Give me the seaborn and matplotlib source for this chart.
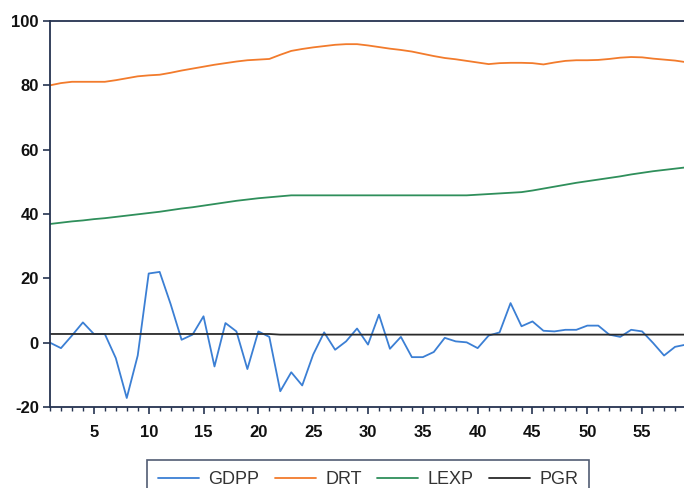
import numpy as np
import pandas as pd
import matplotlib.pyplot as plt
import seaborn as sns
from matplotlib.ticker import MultipleLocator

# observations 1..59
obs = list(range(1, 60))

gdpp = [0.0, -1.7, 2.2, 6.3, 2.7, 2.7, -4.8, -17.2, -4.0, 21.5,
        22.0, 12.0, 0.9, 2.5, 8.2, -7.4, 6.1, 3.5, -8.2, 3.5,
        1.8, -15.1, -9.2, -13.3, -3.7, 3.2, -2.2, 0.4, 4.4, -0.6,
        8.7, -1.9, 1.8, -4.5, -4.5, -2.9, 1.5, 0.4, 0.1, -1.7,
        2.2, 3.2, 12.3, 5.1, 6.6, 3.7, 3.5, 4.0, 4.0, 5.3,
        5.3, 2.5, 1.8, 4.0, 3.5, -0.1, -4.0, -1.3, -0.6]

drt = [80.0, 80.7, 81.1, 81.1, 81.1, 81.1, 81.6, 82.2, 82.8, 83.1,
       83.3, 83.9, 84.6, 85.2, 85.8, 86.4, 86.9, 87.4, 87.8, 88.0,
       88.2, 89.5, 90.7, 91.3, 91.8, 92.2, 92.6, 92.8, 92.8, 92.4,
       91.9, 91.4, 91.0, 90.5, 89.8, 89.1, 88.5, 88.1, 87.6, 87.1,
       86.6, 86.9, 87.0, 87.0, 86.9, 86.5, 87.1, 87.6, 87.8, 87.8,
       87.9, 88.2, 88.6, 88.8, 88.7, 88.3, 88.0, 87.7, 87.2]

lexp = [36.9, 37.3, 37.7, 38.0, 38.4, 38.7, 39.1, 39.5, 39.9, 40.3,
        40.7, 41.2, 41.7, 42.1, 42.6, 43.1, 43.6, 44.1, 44.5, 44.9,
        45.2, 45.5, 45.8, 45.8, 45.8, 45.8, 45.8, 45.8, 45.8, 45.8,
        45.8, 45.8, 45.8, 45.8, 45.8, 45.8, 45.8, 45.8, 45.8, 46.0,
        46.2, 46.4, 46.6, 46.8, 47.3, 47.9, 48.5, 49.1, 49.7, 50.2,
        50.7, 51.2, 51.7, 52.3, 52.8, 53.3, 53.7, 54.1, 54.5]

pgr = [2.7] * 21 + [2.5] * 38

series_names = ["GDPP", "DRT", "LEXP", "PGR"]
colors = ["#3b7fd4", "#f27b2c", "#2f8f5b", "#2a2a2a"]

df = pd.DataFrame({"obs": obs, "GDPP": gdpp, "DRT": drt, "LEXP": lexp, "PGR": pgr})
long_df = df.melt(id_vars="obs", var_name="series", value_name="value")

sns.set_style("white")
plt.rcParams["font.family"] = ["Liberation Sans", "DejaVu Sans"]
plt.rcParams["axes.unicode_minus"] = False

fig = plt.figure(figsize=(6.84, 4.88), dpi=100)
ax = fig.add_axes([50 / 684, 1 - 407 / 488, 636 / 684, 386 / 488])

sns.lineplot(data=long_df, x="obs", y="value", hue="series", hue_order=series_names,
             palette=colors, linewidth=1.3, ax=ax, legend=False)

ax.set_xlim(1, 59)
ax.set_ylim(-20, 100)
ax.set_xlabel("")
ax.set_ylabel("")
ax.xaxis.set_minor_locator(MultipleLocator(1))
ax.yaxis.set_major_locator(MultipleLocator(20))
ax.set_xticks(range(5, 60, 5))

spine_col = "#253350"
for side in ["left", "bottom", "top"]:
    ax.spines[side].set_color(spine_col)
    ax.spines[side].set_linewidth(1.3)
ax.spines["right"].set_visible(False)

ax.tick_params(axis="both", which="major", direction="out", length=5, width=1.2,
               color=spine_col, labelsize=12, pad=4)
ax.tick_params(axis="x", which="minor", direction="out", length=3, width=1.0,
               color=spine_col, bottom=True)
ax.tick_params(axis="x", which="major", bottom=True, pad=8)
ax.tick_params(axis="y", which="major", left=True, pad=3)
for lab in ax.get_xticklabels() + ax.get_yticklabels():
    lab.set_fontweight("bold")
    lab.set_color("#111111")

handles = [plt.Line2D([], [], color=c, linewidth=1.3) for c in colors]
leg = fig.legend(handles, series_names, loc="upper center", ncol=4,
                 bbox_to_anchor=(368 / 684, 1 - 460 / 488), frameon=True,
                 fancybox=False, fontsize=13, handlelength=2.3,
                 columnspacing=0.85, handletextpad=0.5, borderpad=0.6,
                 borderaxespad=0)
leg.get_frame().set_edgecolor(spine_col)
leg.get_frame().set_linewidth(1.2)
for t in leg.get_texts():
    t.set_color("#333333")

fig.savefig("out.png", dpi=100)
